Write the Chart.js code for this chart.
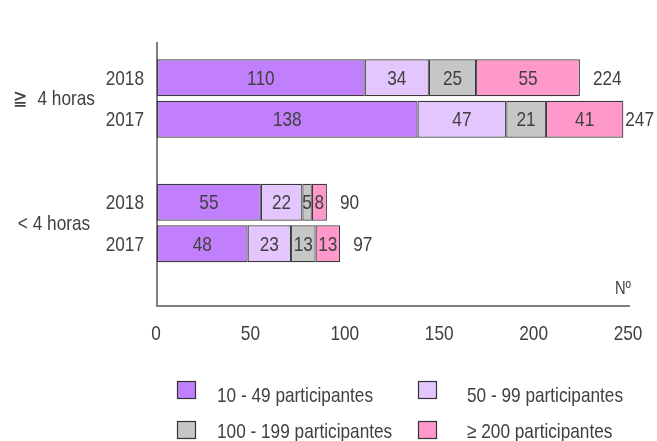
<!DOCTYPE html>
<html>
<head>
<meta charset="utf-8">
<script src="https://cdn.jsdelivr.net/npm/chart.js@4.4.1/dist/chart.umd.min.js"></script>
<style>
  html, body { margin: 0; padding: 0; background: #fff; }
  #wrap { width: 657px; height: 441px; }
</style>
</head>
<body>
<div id="wrap"><canvas id="chart" width="657" height="441"></canvas></div>
<script>
// data
const categories = ['2018', '2017', '', '2018', '2017', ''];
const groupLabels = ['≧  4 horas', '< 4 horas'];
const seriesNames = ['10 - 49 participantes', '50 - 99 participantes', '100 - 199 participantes', '≥ 200 participantes'];
const small = [110, 138, null, 55, 48, null];
const medium = [34, 47, null, 22, 23, null];
const large = [25, 21, null, 5, 13, null];
const huge = [55, 41, null, 8, 13, null];
const totals = [224, 247, null, 90, 97, null];
const xTicks = [0, 50, 100, 150, 200, 250];
const colors = ['#c27ffb', '#e3c6fd', '#c6c6c6', '#ff99cc'];

const FONT = "'Liberation Sans', Arial, sans-serif";
const TEXT = '#404040';
const SQUEEZE = 0.82; // the original type is condensed

function txt(ctx, s, x, y, align, size) {
  ctx.save();
  ctx.font = size + 'px ' + FONT;
  ctx.fillStyle = TEXT;
  ctx.textBaseline = 'middle';
  ctx.textAlign = align;
  ctx.translate(x, y);
  ctx.scale(SQUEEZE, 1);
  ctx.fillText(s, 0, 0);
  ctx.restore();
}
function txtWidth(ctx, s, size) {
  ctx.save();
  ctx.font = size + 'px ' + FONT;
  const w = ctx.measureText(s).width * SQUEEZE;
  ctx.restore();
  return w;
}

// all text, axis extension and legend
const extras = {
  id: 'extras',
  afterDatasetsDraw(chart) {
    const ctx = chart.ctx;
    const x = chart.scales.x;
    const y = chart.scales.y;
    const area = chart.chartArea;
    // segment values
    chart.data.datasets.forEach((ds, i) => {
      chart.getDatasetMeta(i).data.forEach((bar, j) => {
        if (ds.data[j] == null) return;
        txt(ctx, String(ds.data[j]), (bar.x + bar.base) / 2, bar.y + 1, 'center', 21);
      });
    });
    // totals
    const last = chart.getDatasetMeta(chart.data.datasets.length - 1).data;
    totals.forEach((t, j) => {
      if (t == null) return;
      const w = txtWidth(ctx, String(t), 21);
      const px = Math.min(last[j].x + 13, chart.width - w - 3);
      txt(ctx, String(t), px, last[j].y + 1, 'left', 21);
    });
    // year ticks
    categories.forEach((c, j) => {
      if (c) txt(ctx, c, area.left - 13, y.getPixelForValue(j) + 1, 'right', 21);
    });
    // group labels
    groupLabels.forEach((g, k) => {
      const yc = (y.getPixelForValue(k * 3) + y.getPixelForValue(k * 3 + 1)) / 2;
      txt(ctx, g, 54, yc + 1, 'center', 21);
    });
    // x ticks
    xTicks.forEach(v => txt(ctx, String(v), x.getPixelForValue(v) - 1, 334, 'center', 21));
    // unit label
    txt(ctx, 'Nº', area.right + 2, 289, 'right', 18);
    // y axis runs a bit above the bars
    ctx.save();
    ctx.strokeStyle = '#7f7f7f';
    ctx.lineWidth = 2;
    ctx.beginPath();
    ctx.moveTo(area.left, 42);
    ctx.lineTo(area.left, area.top + 1);
    ctx.stroke();
    // legend, two columns
    const colBox = [177, 418];
    const colText = [217, 467];
    const rowBox = [381, 421];
    const rowText = [396, 432];
    seriesNames.forEach((name, k) => {
      const c = k % 2, r = Math.floor(k / 2);
      ctx.fillStyle = colors[k];
      ctx.fillRect(colBox[c], rowBox[r], 18, 17);
      ctx.strokeStyle = '#333';
      ctx.lineWidth = 1.2;
      ctx.strokeRect(colBox[c] + 0.5, rowBox[r] + 0.5, 18, 17);
      txt(ctx, name, colText[c], rowText[r], 'left', 21);
    });
    ctx.restore();
  }
};

const seriesData = [small, medium, large, huge];

new Chart(document.getElementById('chart'), {
  type: 'bar',
  data: {
    labels: categories,
    datasets: seriesData.map((d, i) => ({
      label: seriesNames[i],
      data: d,
      backgroundColor: colors[i],
      borderColor: '#3a3a3a',
      borderWidth: 1.2,
      borderSkipped: false,
      barPercentage: 0.89,
      categoryPercentage: 1
    }))
  },
  options: {
    indexAxis: 'y',
    responsive: false,
    animation: false,
    layout: { padding: { top: 57, right: 28, left: 0, bottom: 0 } },
    plugins: { legend: { display: false }, tooltip: { enabled: false } },
    scales: {
      x: {
        stacked: true,
        min: 0,
        max: 250,
        ticks: { display: false, stepSize: 50 },
        grid: { display: false },
        border: { display: true, color: '#7f7f7f', width: 2 },
        afterFit(s) { s.height = 135; }
      },
      y: {
        stacked: true,
        ticks: { display: false },
        grid: { display: false },
        border: { display: true, color: '#7f7f7f', width: 2 },
        afterFit(s) { s.width = 157; }
      }
    }
  },
  plugins: [extras]
});
</script>
</body>
</html>
